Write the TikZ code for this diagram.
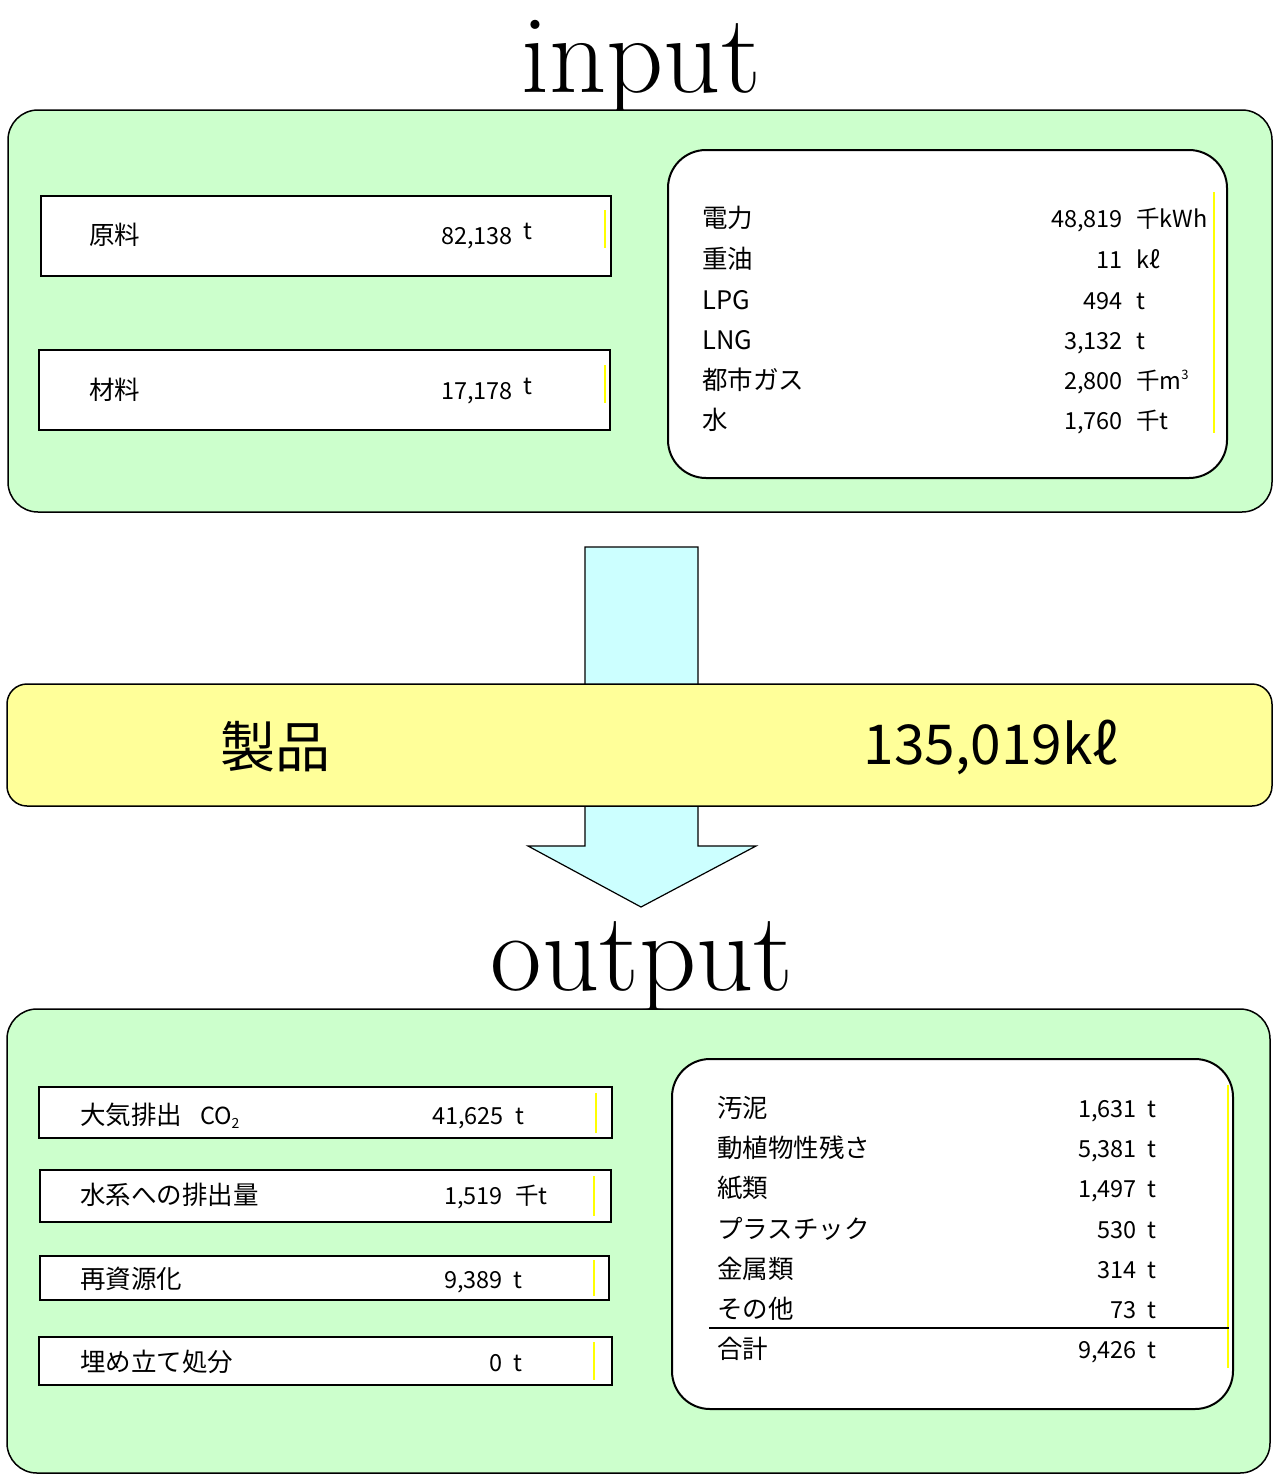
\documentclass[tikz,border=0pt]{standalone}
\usepackage{fontspec}
\newfontfamily\jp{Noto Sans CJK JP}
\definecolor{bgreen}{HTML}{CCFFCC}
\definecolor{byellow}{HTML}{FFFF99}
\definecolor{bcyan}{HTML}{CCFFFF}
\definecolor{yline}{HTML}{FFFF00}
\tikzset{
  panel/.style={draw=black, line width=1.5pt, fill=bgreen, rounded corners=30pt},
  listbox/.style={draw=black, line width=2pt, fill=white, rounded corners=38pt},
  itembox/.style={draw=black, line width=1.6pt, fill=white},
  ymark/.style={draw=yline, line width=1.3pt},
  lbl/.style={anchor=base west, inner sep=0pt, font=\jp\fontsize{25.5}{25.5}\selectfont},
  num/.style={anchor=base east, inner sep=0pt, font=\jp\fontsize{23.5}{23.5}\selectfont},
  unit/.style={anchor=base west, inner sep=0pt, font=\jp\fontsize{23.5}{23.5}\selectfont},
  title/.style={anchor=base, inner sep=0pt, font=\fontsize{112}{112}\selectfont},
  big/.style={inner sep=0pt, font=\jp\fontsize{55}{55}\selectfont}
}
\begin{document}
\begin{tikzpicture}[x=1pt,y=-1pt]
\useasboundingbox (0,0) rectangle (1273,1475);
% titles
\node[title] (tin) at (641,92) {input};
\node[title] (tout) at (642,990) {output};
% input panel
\draw[panel] (8,110) rectangle (1272,512);
\draw[itembox] (41,196) rectangle (611,276);
\draw[itembox] (39,350) rectangle (610,430);
\draw[ymark] (605,210) -- (605,248);
\draw[ymark] (605,365) -- (605,403);
\node[lbl] (l1) at (89,244) {原料};
\node[num] (n1) at (513,244) {82,138};
\node[unit] (u1) at (523,239) {t};
\node[lbl] (l2) at (89,399) {材料};
\node[num] (n2) at (513,399) {17,178};
\node[unit] (u2) at (523,394) {t};
\draw[listbox] (668,150) rectangle (1227,478);
\draw[ymark] (1214,192) -- (1214,433);
\node[lbl] (e1) at (702,227) {電力};
\node[num] (v1) at (1123,227) {48,819};
\node[unit] (w1) at (1136,227) {千kWh};
\node[lbl] (e2) at (702,268) {重油};
\node[num] (v2) at (1123,268) {11};
\node[unit] (w2) at (1136,268) {kℓ};
\node[lbl] (e3) at (702,309) {LPG};
\node[num] (v3) at (1123,309) {494};
\node[unit] (w3) at (1136,309) {t};
\node[lbl] (e4) at (702,349) {LNG};
\node[num] (v4) at (1123,349) {3,132};
\node[unit] (w4) at (1136,349) {t};
\node[lbl] (e5) at (702,389) {都市ガス};
\node[num] (v5) at (1123,389) {2,800};
\node[unit] (w5) at (1136,389) {千m\raisebox{10pt}{\fontsize{13}{13}\selectfont 3}};
\node[lbl] (e6) at (702,429) {水};
\node[num] (v6) at (1123,429) {1,760};
\node[unit] (w6) at (1136,429) {千t};
% arrow
\draw[fill=bcyan, draw=black, line width=1.2pt] (585,547) -- (698,547) -- (698,846) -- (756,846) -- (641,907) -- (528,846) -- (585,846) -- cycle;
% product band
\draw[draw=black, line width=1.5pt, fill=byellow, rounded corners=20pt] (7,684) rectangle (1272,806);
\node[big] (p1) at (275,747) {製品};
\node[big, anchor=east] (p2) at (1118,747) {135,019kℓ};
% output panel
\draw[panel] (7,1009) rectangle (1270,1473);
\draw[itembox] (39,1087) rectangle (612,1138);
\draw[itembox] (40,1170) rectangle (611,1222);
\draw[itembox] (40,1256) rectangle (609,1300);
\draw[itembox] (39,1337) rectangle (612,1385);
\draw[ymark] (596,1093) -- (596,1133);
\draw[ymark] (594,1176) -- (594,1216);
\draw[ymark] (594,1260) -- (594,1296);
\draw[ymark] (594,1342) -- (594,1380);
\node[lbl] (o1) at (80,1124) {大気排出\hspace{0.7em}{\fontsize{23.5}{23.5}\selectfont CO\raisebox{-4pt}{\fontsize{14}{14}\selectfont 2}}};
\node[num] (q1) at (504,1124) {41,625};
\node[unit] (r1) at (515,1124) {t};
\node[lbl] (o2) at (80,1204) {水系への排出量};
\node[num] (q2) at (503,1204) {1,519};
\node[unit] (r2) at (515,1204) {千t};
\node[lbl] (o3) at (80,1288) {再資源化};
\node[num] (q3) at (503,1288) {9,389};
\node[unit] (r3) at (513,1288) {t};
\node[lbl] (o4) at (80,1371) {埋め立て処分};
\node[num] (q4) at (503,1371) {0};
\node[unit] (r4) at (513,1371) {t};
\draw[listbox] (672,1059) rectangle (1233,1409);
\draw[ymark] (1228,1085) -- (1228,1368);
\node[lbl] (k1) at (717,1117) {汚泥};
\node[num] (m1) at (1137,1117) {1,631};
\node[unit] (t1) at (1147,1117) {t};
\node[lbl] (k2) at (717,1157) {動植物性残さ};
\node[num] (m2) at (1137,1157) {5,381};
\node[unit] (t2) at (1147,1157) {t};
\node[lbl] (k3) at (717,1197) {紙類};
\node[num] (m3) at (1137,1197) {1,497};
\node[unit] (t3) at (1147,1197) {t};
\node[lbl] (k4) at (717,1238) {プラスチック};
\node[num] (m4) at (1137,1238) {530};
\node[unit] (t4) at (1147,1238) {t};
\node[lbl] (k5) at (717,1278) {金属類};
\node[num] (m5) at (1137,1278) {314};
\node[unit] (t5) at (1147,1278) {t};
\node[lbl] (k6) at (717,1318) {その他};
\node[num] (m6) at (1137,1318) {73};
\node[unit] (t6) at (1147,1318) {t};
\draw[line width=2pt] (709,1328) -- (1229,1328);
\node[lbl] (k7) at (717,1358) {合計};
\node[num] (m7) at (1137,1358) {9,426};
\node[unit] (t7) at (1147,1358) {t};
\end{tikzpicture}
\end{document}
